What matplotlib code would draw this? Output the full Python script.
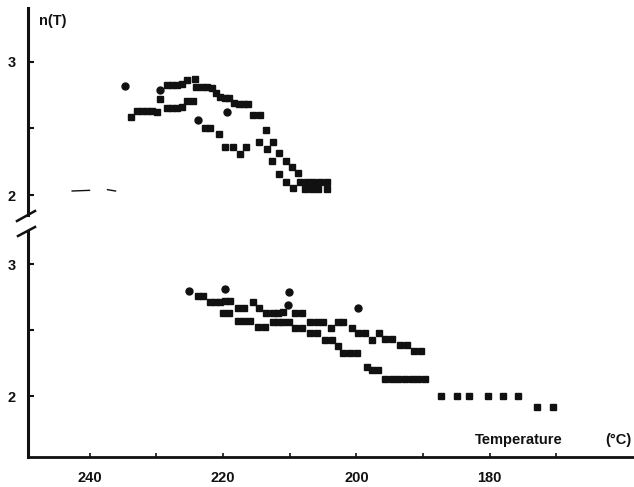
import matplotlib
matplotlib.use("Agg")
import matplotlib.pyplot as plt

plt.rcParams["font.family"] = ["Liberation Sans", "DejaVu Sans"]
plt.rcParams["font.weight"] = "bold"

INK = "#111111"

# ---- upper panel (n between 2 and 3, first run) ----
up_hi_T = [228.43, 227.68, 226.93, 226.18, 225.43, 224.18, 224.03, 223.18, 222.43,
           221.68, 221.03, 220.43, 219.69, 219.04, 218.34, 217.59, 216.84, 216.19,
           215.53, 214.44, 213.54, 212.44, 211.54, 210.58, 209.69, 208.70,
           208.42, 207.42, 206.44, 205.44, 204.44]
up_hi_n = [2.825, 2.825, 2.825, 2.833, 2.863, 2.868, 2.812, 2.808, 2.808,
           2.800, 2.767, 2.733, 2.725, 2.725, 2.688, 2.680, 2.680, 2.680,
           2.600, 2.600, 2.488, 2.400, 2.317, 2.257, 2.212, 2.163,
           2.100, 2.100, 2.100, 2.100, 2.100]

up_mid_T = [233.78, 232.92, 232.17, 231.42, 230.67, 229.93, 229.43, 228.43, 227.68,
            226.93, 226.18, 225.34, 224.44]
up_mid_n = [2.587, 2.632, 2.632, 2.628, 2.628, 2.625, 2.718, 2.650, 2.655,
            2.655, 2.658, 2.707, 2.707]

up_lo_T = [222.68, 221.93, 220.58, 219.69, 218.44, 217.44, 216.54, 214.54, 213.43,
           212.68, 211.54, 210.58, 209.45, 207.69, 206.69, 205.70, 204.43]
up_lo_n = [2.505, 2.500, 2.455, 2.362, 2.362, 2.305, 2.362, 2.400, 2.345,
           2.257, 2.158, 2.100, 2.050, 2.043, 2.043, 2.043, 2.043]

up_circ_T = [234.68, 229.43, 219.43, 223.69]
up_circ_n = [2.820, 2.788, 2.625, 2.563]

# faint trace at the left of the upper panel
trace_T = [[242.6, 240.0], [237.3, 236.1]]
trace_n = [[2.03, 2.035], [2.04, 2.03]]

# ---- lower panel (second run) ----
lo_hi_T = [223.69, 222.94, 221.93, 221.18, 220.43, 219.69, 218.94, 217.69, 216.84,
           215.53, 214.54, 213.54, 212.44, 211.69, 210.94, 209.19, 208.19, 206.94,
           205.94, 204.95, 203.79, 202.79, 201.95, 200.69, 199.70, 198.69, 197.69,
           196.60, 195.70, 194.69, 193.45, 192.44, 191.35, 190.34]
lo_hi_n = [2.760, 2.760, 2.714, 2.714, 2.714, 2.720, 2.720, 2.669, 2.669,
           2.714, 2.669, 2.627, 2.627, 2.627, 2.634, 2.627, 2.627, 2.563,
           2.563, 2.563, 2.517, 2.563, 2.563, 2.517, 2.475, 2.475, 2.424,
           2.475, 2.430, 2.430, 2.386, 2.386, 2.343, 2.343]

lo_lo_T = [219.94, 219.04, 217.69, 216.84, 215.94, 214.69, 213.69, 212.44, 211.69,
           210.94, 210.04, 209.19, 208.19, 206.94, 205.94, 204.69, 203.69, 202.70,
           201.95, 200.94, 199.94, 198.44, 197.69, 196.70, 195.70, 194.69, 193.70,
           192.70, 191.69, 190.70, 189.70]
lo_lo_n = [2.627, 2.627, 2.570, 2.570, 2.570, 2.525, 2.525, 2.563, 2.563,
           2.563, 2.563, 2.517, 2.517, 2.475, 2.475, 2.424, 2.424, 2.379,
           2.323, 2.323, 2.328, 2.222, 2.197, 2.197, 2.127, 2.127, 2.127,
           2.127, 2.127, 2.127, 2.127]

lo_tail_T = [187.35, 184.95, 183.06, 180.21, 177.96, 175.80, 172.86, 170.55]
lo_tail_n = [2.002, 2.002, 2.002, 2.002, 2.002, 2.002, 1.917, 1.917]

lo_circ_T = [225.04, 219.68, 210.04, 199.70, 210.19]
lo_circ_n = [2.798, 2.811, 2.786, 2.669, 2.689]

x_ticks = [240, 230, 220, 210, 200, 190, 180, 170]
x_labels = ["240", "", "220", "", "200", "", "180", ""]
y_ticks = [2, 2.5, 3]
y_labels = ["2", "", "3"]

W, H = 634, 487


def box(left, top, right, bottom):
    """Pixel box -> figure fraction rect."""
    return [left / W, 1 - bottom / H, (right - left) / W, (bottom - top) / H]


fig = plt.figure(figsize=(W / 100, H / 100), dpi=100)
ax_up = fig.add_axes(box(28, 8, 634, 215))
ax_lo = fig.add_axes(box(28, 231, 634, 457))

xlim = (249.22, 158.37)
ax_up.set_ylim(1.85, 3.403)
ax_lo.set_ylim(1.538, 3.25)

sq = dict(marker="s", ms=4.0, ls="none", color=INK, mec=INK)
ci = dict(marker="o", ms=5.0, ls="none", color=INK, mec=INK)

ax_up.plot(up_hi_T, up_hi_n, **sq)
ax_up.plot(up_mid_T, up_mid_n, **sq)
ax_up.plot(up_lo_T, up_lo_n, **sq)
ax_up.plot(up_circ_T, up_circ_n, **ci)
for tx, ny in zip(trace_T, trace_n):
    ax_up.plot(tx, ny, color=INK, lw=1.0)

ax_lo.plot(lo_hi_T, lo_hi_n, **sq)
ax_lo.plot(lo_lo_T, lo_lo_n, **sq)
ax_lo.plot(lo_tail_T, lo_tail_n, **sq)
ax_lo.plot(lo_circ_T, lo_circ_n, **ci)

for ax in (ax_up, ax_lo):
    ax.set_xlim(*xlim)
    ax.set_facecolor("none")
    for side in ("top", "right"):
        ax.spines[side].set_visible(False)
    ax.spines["left"].set_linewidth(2.2)
    ax.spines["left"].set_color(INK)
    ax.set_yticks(y_ticks)
    ax.set_yticklabels(y_labels)
    ax.tick_params(axis="y", direction="in", length=4, width=1.5, pad=9,
                   labelsize=10.5, colors=INK)

ax_up.spines["bottom"].set_visible(False)
ax_up.set_xticks([])

ax_lo.spines["bottom"].set_linewidth(2.0)
ax_lo.spines["bottom"].set_color(INK)
ax_lo.set_xticks(x_ticks)
ax_lo.set_xticklabels(x_labels)
ax_lo.tick_params(axis="x", direction="in", length=3, width=1.2, pad=10,
                  labelsize=10.5, colors=INK)

# break marks on the vertical axis
brk = dict(color=INK, lw=1.8, transform=fig.transFigure, clip_on=False)
fig.add_artist(plt.Line2D([17 / W, 35 / W], [1 - 221 / H, 1 - 211 / H], **brk))
fig.add_artist(plt.Line2D([18 / W, 35 / W], [1 - 236 / H, 1 - 227 / H], **brk))

fig.text(39 / W, 1 - 21 / H, "n(T)", fontsize=10.5, fontweight="bold",
         va="center", ha="left", color=INK)
fig.text(475 / W, 1 - 440 / H, "Temperature", fontsize=10.5, fontweight="bold",
         va="center", ha="left", color=INK)
fig.text(632 / W, 1 - 440 / H, "(°C)", fontsize=10.5, fontweight="bold",
         va="center", ha="right", color=INK)

fig.savefig("out.png", dpi=100)
